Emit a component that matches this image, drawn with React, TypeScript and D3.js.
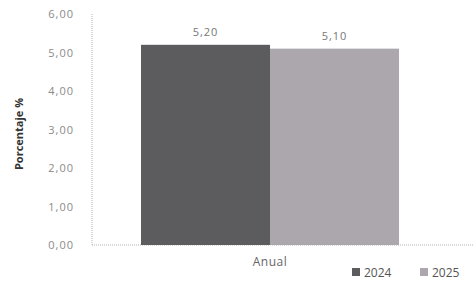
import React, { useEffect, useRef } from 'react';
import * as d3 from 'd3';

const categories = ['Anual'];
const years = ['2024', '2025'];
const values2024 = [5.2];
const values2025 = [5.1];
const yTicks = [0, 1, 2, 3, 4, 5, 6];
const colors = ['#5c5b5d', '#aba7ad'];

const fmt = (v: number) => v.toFixed(2).replace('.', ',');

const App = () => {
  const ref = useRef<SVGSVGElement>(null);

  useEffect(() => {
    if (!ref.current) return;
    const svg = d3.select(ref.current);
    svg.selectAll('*').remove();

    const left = 92, right = 448, top = 14, bottom = 245;
    const font = '"Open Sans", sans-serif';

    const x0 = d3.scaleBand().domain(categories).range([left, right]).paddingInner(0).paddingOuter(0.19);
    const x1 = d3.scaleBand().domain(years).range([0, x0.bandwidth()]).padding(0);
    const y = d3.scaleLinear().domain([0, 6]).range([bottom, top]);

    // y axis labels
    svg.append('g')
      .selectAll('text')
      .data(yTicks)
      .join('text')
      .attr('x', 74)
      .attr('y', d => y(d) + 4)
      .attr('text-anchor', 'end')
      .attr('font-family', font)
      .attr('font-size', 11)
      .attr('letter-spacing', 1)
      .attr('fill', '#8a8a8a')
      .text(d => fmt(d));

    // axis lines (dotted)
    svg.append('line')
      .attr('x1', left).attr('x2', left)
      .attr('y1', y(6)).attr('y2', y(0))
      .attr('stroke', '#b5b5b5').attr('stroke-dasharray', '1,1');
    svg.append('line')
      .attr('x1', left).attr('x2', 474)
      .attr('y1', y(0)).attr('y2', y(0))
      .attr('stroke', '#b5b5b5').attr('stroke-dasharray', '1,1');

    const series = [values2024, values2025];
    const g = svg.append('g');
    categories.forEach((c, ci) => {
      years.forEach((yr, si) => {
        const v = series[si][ci];
        const bx = (x0(c) ?? 0) + (x1(yr) ?? 0);
        g.append('rect')
          .attr('x', bx)
          .attr('y', y(v))
          .attr('width', x1.bandwidth())
          .attr('height', y(0) - y(v))
          .attr('fill', colors[si]);
        g.append('text')
          .attr('x', bx + x1.bandwidth() / 2)
          .attr('y', y(v) - 9)
          .attr('text-anchor', 'middle')
          .attr('font-family', font)
          .attr('font-size', 11)
          .attr('letter-spacing', 1)
          .attr('fill', '#777')
          .text(fmt(v));
      });
      svg.append('text')
        .attr('x', (x0(c) ?? 0) + x0.bandwidth() / 2)
        .attr('y', 266)
        .attr('text-anchor', 'middle')
        .attr('font-family', font)
        .attr('font-size', 12)
        .attr('letter-spacing', 0.5)
        .attr('fill', '#666')
        .text(c);
    });

    // y title
    svg.append('text')
      .attr('transform', `translate(23,${134}) rotate(-90)`)
      .attr('text-anchor', 'middle')
      .attr('font-family', font)
      .attr('font-size', 11)
      .attr('font-weight', 'bold')
      .attr('fill', '#333')
      .text('Porcentaje %');

    // legend
    const legendX = [352, 420];
    years.forEach((yr, i) => {
      svg.append('rect')
        .attr('x', legendX[i]).attr('y', 268)
        .attr('width', 8).attr('height', 8)
        .attr('fill', colors[i]);
      svg.append('text')
        .attr('x', legendX[i] + 12).attr('y', 277)
        .attr('font-family', font)
        .attr('font-size', 12)
        .attr('fill', '#555')
        .text(yr);
    });
  }, []);

  return (
    <svg ref={ref} width={474} height={286}
      style={{ position: 'absolute', left: 0, top: 0, background: '#fff' }} />
  );
};

export default App;
